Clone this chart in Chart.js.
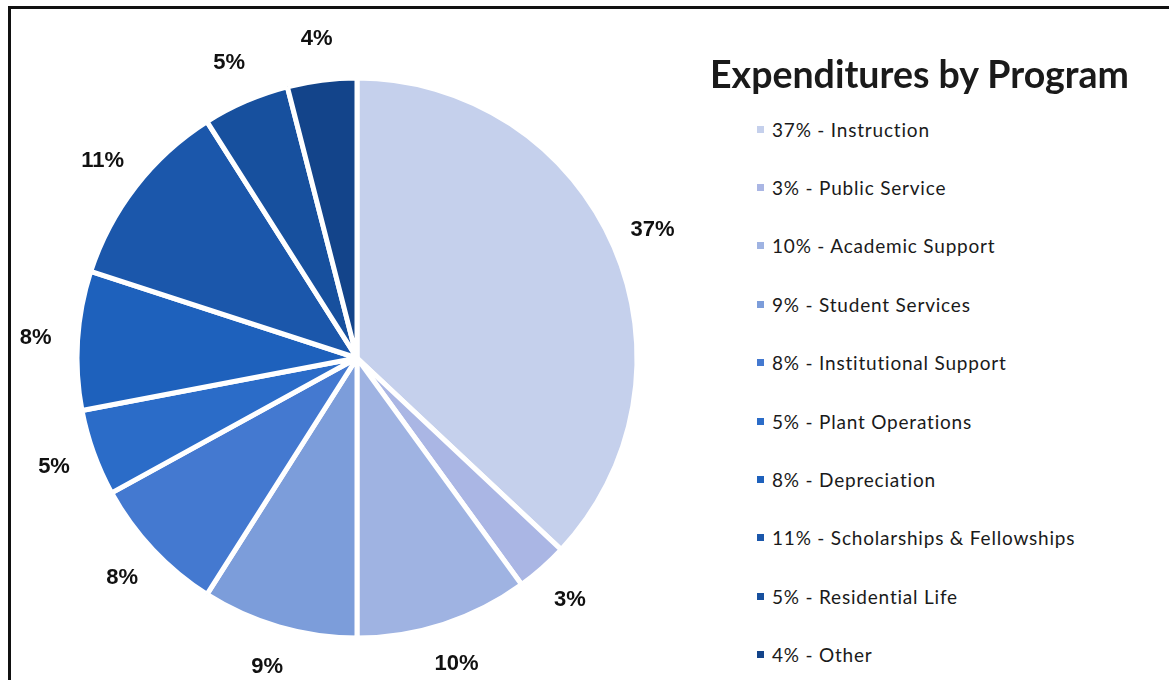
<!DOCTYPE html>
<html>
<head>
<meta charset="utf-8">
<title>Expenditures by Program</title>
<script src="https://cdn.jsdelivr.net/npm/chart.js@4.4.1/dist/chart.umd.min.js"></script>
<style>
    html, body {
        margin: 0;
        padding: 0;
        width: 1169px;
        height: 680px;
        overflow: hidden;
        background: #fff;
    }
    #frame {
        position: absolute;
        left: 8px;
        top: 6px;
        width: 1200px;
        height: 720px;
        border: 3px solid #111;
        box-sizing: border-box;
    }
    #chartWrap {
        position: absolute;
        left: 0;
        top: 0;
        width: 715px;
        height: 680px;
    }
    #side {
        position: absolute;
        left: 710px;
        top: 55px;
        font-family: Lato, "Open Sans", sans-serif;
        color: #1a1a1a;
    }
    #side h1 {
        margin: 0;
        font-size: 37.5px;
        line-height: 37px;
        font-weight: 700;
        white-space: nowrap;
    }
    #legend {
        list-style: none;
        margin: 0;
        padding: 0;
        position: absolute;
        left: 47px;
        top: 45px;
    }
    #legend li {
        height: 58.4px;
        display: flex;
        align-items: center;
        font-size: 19px;
        letter-spacing: 0.8px;
        white-space: nowrap;
    }
    #legend li span.box {
        display: inline-block;
        width: 7px;
        height: 7px;
        margin-right: 8px;
    }
</style>
</head>
<body>
<div id="frame"></div>
<div id="chartWrap"><canvas id="programChart"></canvas></div>
<div id="side">
    <h1>Expenditures by Program</h1>
    <ul id="legend"></ul>
</div>

<script>
    // share of total expenditures, in percent
    const programs = [
        'Instruction',
        'Public Service',
        'Academic Support',
        'Student Services',
        'Institutional Support',
        'Plant Operations',
        'Depreciation',
        'Scholarships & Fellowships',
        'Residential Life',
        'Other'
    ];
    const shares = [37, 3, 10, 9, 8, 5, 8, 11, 5, 4];
    const sliceColors = [
        '#c5d0ec', '#aab6e4', '#9fb3e2', '#7c9dda', '#4479d0',
        '#2b6cc8', '#1e61bc', '#1b57ab', '#17509e', '#13448a'
    ];

    // percent labels sitting just outside each slice
    const outsideLabels = {
        id: 'outsideLabels',
        afterDatasetsDraw(chart) {
            const { ctx } = chart;
            const meta = chart.getDatasetMeta(0);
            ctx.save();
            ctx.font = 'bold 22px "Liberation Sans", Arial, sans-serif';
            ctx.fillStyle = '#111';
            ctx.textAlign = 'center';
            ctx.textBaseline = 'middle';
            meta.data.forEach((arc, i) => {
                const { x, y, startAngle, endAngle, outerRadius } =
                    arc.getProps(['x', 'y', 'startAngle', 'endAngle', 'outerRadius'], true);
                const mid = (startAngle + endAngle) / 2;
                const r = outerRadius + 42;
                ctx.fillText(shares[i] + '%', x + Math.cos(mid) * r, y + Math.sin(mid) * r);
            });
            ctx.restore();
        }
    };

    // legend built as a plain list next to the canvas
    const htmlLegend = {
        id: 'htmlLegend',
        afterUpdate(chart) {
            const list = document.getElementById('legend');
            list.innerHTML = '';
            chart.options.plugins.legend.labels.generateLabels(chart).forEach((item, i) => {
                const li = document.createElement('li');
                const box = document.createElement('span');
                box.className = 'box';
                box.style.background = item.fillStyle;
                li.appendChild(box);
                li.appendChild(document.createTextNode(shares[i] + '% - ' + programs[i]));
                list.appendChild(li);
            });
        }
    };

    const ctx = document.getElementById('programChart').getContext('2d');

    new Chart(ctx, {
        type: 'pie',
        data: {
            labels: programs,
            datasets: [{
                data: shares,
                backgroundColor: sliceColors,
                borderColor: '#ffffff',
                borderWidth: 5,
                hoverOffset: 0
            }]
        },
        options: {
            responsive: true,
            maintainAspectRatio: false,
            animation: false,
            radius: 280,
            layout: {
                padding: { left: 79, right: 80, top: 80, bottom: 44 }
            },
            plugins: {
                legend: { display: false },
                tooltip: { enabled: false }
            }
        },
        plugins: [outsideLabels, htmlLegend]
    });
</script>
</body>
</html>
